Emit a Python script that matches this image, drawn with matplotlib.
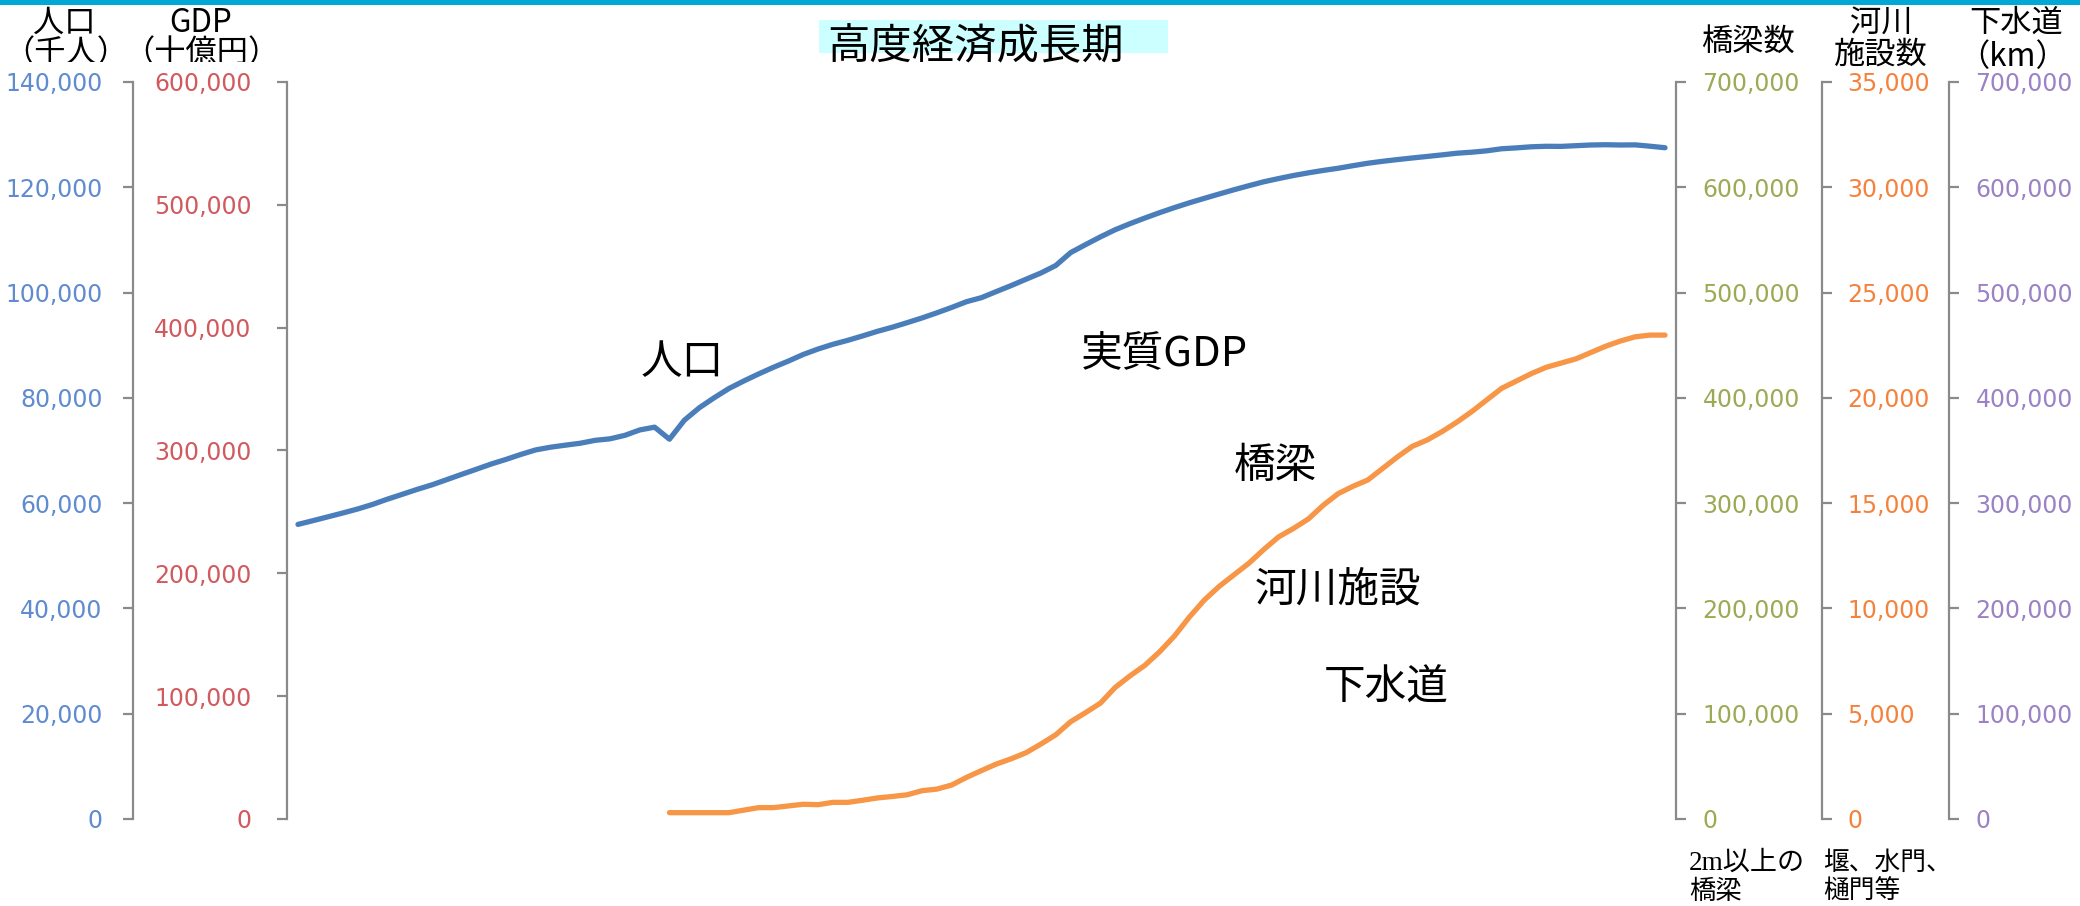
import matplotlib
matplotlib.use("Agg")
import matplotlib.pyplot as plt
from matplotlib.patches import Rectangle
from matplotlib.ticker import FuncFormatter
from matplotlib.transforms import Bbox, TransformedBbox

# ---------------- data ----------------
pop_years = list(range(1920, 2013))
population = [  # thousand persons
    55963, 56666, 57390, 58119, 58876, 59737, 60741, 61659, 62595, 63461,
    64450, 65457, 66434, 67432, 68309, 69254, 70114, 70630, 71013, 71380,
    71933, 72218, 72880, 73903, 74433, 72147, 75750, 78101, 80002, 81773,
    83200, 84541, 85808, 86981, 88239, 89276, 90172, 90928, 91767, 92641,
    93419, 94287, 95181, 96156, 97182, 98275, 99036, 100196, 101331, 102536,
    103720, 105145, 107595, 109104, 110573, 111940, 113094, 114165, 115190, 116155,
    117060, 117902, 118728, 119536, 120305, 121049, 121660, 122239, 122745, 123205,
    123611, 124101, 124567, 124938, 125265, 125570, 125859, 126157, 126472, 126667,
    126926, 127316, 127486, 127694, 127787, 127768, 127901, 128033, 128084, 128032,
    128057, 127799, 127515,
]

river_years = list(range(1945, 2013))
river_facilities = [  # cumulative count
    300, 300, 300, 300, 300, 420, 540, 540, 620, 700,
    680, 790, 790, 890, 1000, 1070, 1150, 1345, 1420, 1615,
    1980, 2300, 2610, 2860, 3150, 3560, 4000, 4620, 5050, 5500,
    6250, 6800, 7300, 7950, 8700, 9600, 10400, 11050, 11600, 12150,
    12800, 13400, 13800, 14250, 14900, 15450, 15800, 16100, 16650, 17200,
    17700, 18000, 18400, 18850, 19350, 19900, 20450, 20800, 21150, 21450,
    21650, 21850, 22150, 22450, 22700, 22900, 22980, 22980,
]

pop_ticks = [0, 20000, 40000, 60000, 80000, 100000, 120000, 140000]
gdp_ticks = [0, 100000, 200000, 300000, 400000, 500000, 600000]
bridge_ticks = [0, 100000, 200000, 300000, 400000, 500000, 600000, 700000]
river_ticks = [0, 5000, 10000, 15000, 20000, 25000, 30000, 35000]
sewer_ticks = [0, 100000, 200000, 300000, 400000, 500000, 600000, 700000]

series_labels = ["人口", "実質GDP", "橋梁", "河川施設", "下水道"]

# ---------------- layout helpers ----------------
W, H = 2080, 906
fig = plt.figure(figsize=(W / 100, H / 100), dpi=100)
fig.patch.set_facecolor("white")

CJK = ["Noto Sans CJK JP", "DejaVu Sans"]


def fx(px):
    return px / W


def fy(py):
    return 1 - py / H


X0, X1, Y0, Y1 = 287, 1676, 82, 819
ax = fig.add_axes([fx(X0), fy(Y1), fx(X1 - X0), (Y1 - Y0) / H])
ax.set_xlim(1919.26, 2012.74)
ax.xaxis.set_visible(False)
ax.patch.set_visible(False)

SPINE = "#8A8A8A"
comma = FuncFormatter(lambda v, p: f"{int(v):,}")


def style_axis(a, side, pos_px, ymax, ticks, color, pad):
    for name, sp in a.spines.items():
        sp.set_visible(name == side)
    sp = a.spines[side]
    sp.set_color(SPINE)
    sp.set_linewidth(1.6)
    frac = (pos_px - X0) / (X1 - X0)
    sp.set_position(("axes", frac))
    if side == "left":
        a.yaxis.tick_left()
    else:
        a.yaxis.tick_right()
    a.set_ylim(0, ymax)
    a.set_yticks(ticks)
    a.yaxis.set_major_formatter(comma)
    a.tick_params(axis="y", direction="out", length=7.5, width=1.6,
                  color=SPINE, labelcolor=color, labelsize=17, pad=pad)
    for lab in a.get_yticklabels():
        lab.set_fontfamily("DejaVu Sans")


ax_gdp = ax
ax_pop = ax.twinx()
ax_bridge = ax.twinx()
ax_river = ax.twinx()
ax_sewer = ax.twinx()

style_axis(ax_gdp, "left", 287, 600000, gdp_ticks, "#D05A5E", 18)
style_axis(ax_pop, "left", 133, 140000, pop_ticks, "#5F8BD0", 14.5)
style_axis(ax_bridge, "right", 1676, 700000, bridge_ticks, "#9DAA55", 11.5)
style_axis(ax_river, "right", 1822, 35000, river_ticks, "#F5823C", 10.5)
style_axis(ax_sewer, "right", 1949, 700000, sewer_ticks, "#9A82C4", 11.5)

for a in (ax_pop, ax_bridge, ax_river, ax_sewer):
    a.set_xlim(ax.get_xlim())

# ---------------- series ----------------
ax_pop.plot(pop_years, population, color="#4A7EBB", lw=3.8,
            solid_joinstyle="round", solid_capstyle="round", zorder=5)
ax_river.plot(river_years, river_facilities, color="#F79646", lw=3.8,
              solid_joinstyle="round", solid_capstyle="round", zorder=5)

# ---------------- decorations ----------------
fig.add_artist(Rectangle((0, fy(5)), 1, 5 / H, transform=fig.transFigure,
                         facecolor="#00A8D6", edgecolor="none"))
fig.add_artist(Rectangle((fx(819), fy(53)), fx(1168 - 819), 33 / H,
                         transform=fig.transFigure,
                         facecolor="#CCFFFF", edgecolor="none"))
fig.text(fx(827), fy(47), "高度経済成長期", fontsize=30.5, family=CJK,
         ha="left", va="center", color="black")

# axis titles
clip = TransformedBbox(Bbox.from_extents(0, fy(62), 1, 1), fig.transFigure)


def title(x, y, s, size=22.5, clipped=False):
    t = fig.text(fx(x), fy(y), s, fontsize=size, family=CJK,
                 ha="center", va="center", color="black")
    if clipped:
        t.set_clip_box(clip)
        t.set_clip_on(True)
    return t


title(64, 23, "人口")
title(66, 53, "（千人）", clipped=True)
title(201, 23, "GDP")
title(201, 53, "（十億円）", clipped=True)
title(1748, 42, "橋梁数")
title(1881, 23, "河川")
title(1881, 55, "施設数")
title(2016, 23, "下水道")
title(2013, 57, "（km）")

# series names inside the plot
label_pos = [(641, 363), (1081, 355), (1234, 467), (1255, 590), (1324, 688)]
for (x, y), s in zip(label_pos, series_labels):
    fig.text(fx(x), fy(y), s, fontsize=30, family=CJK,
             ha="left", va="center", color="black")

# notes under the right axes
note_family = ["Liberation Serif", "Noto Sans CJK JP"]
fig.text(fx(1689), fy(863), "2m以上の", fontsize=19.5, family=note_family,
         ha="left", va="center")
fig.text(fx(1689), fy(892), "橋梁", fontsize=19, family=note_family,
         ha="left", va="center")
fig.text(fx(1823), fy(863), "堰、水門、", fontsize=18.5, family=note_family,
         ha="left", va="center")
fig.text(fx(1823), fy(892), "樋門等", fontsize=18.5, family=note_family,
         ha="left", va="center")

fig.savefig("out.png", dpi=100, facecolor="white")
